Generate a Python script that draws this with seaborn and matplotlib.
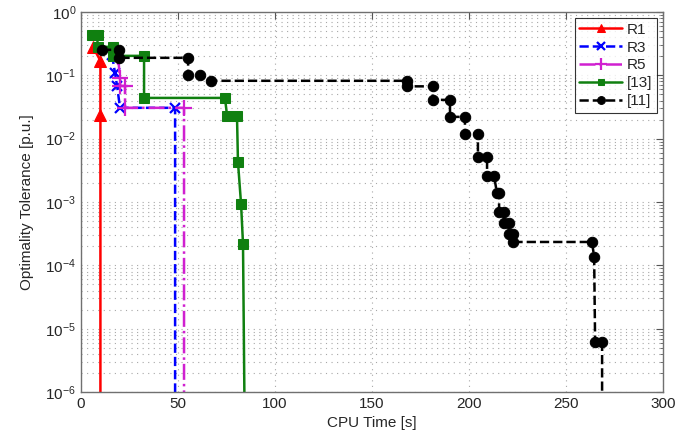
import numpy as np
import matplotlib
matplotlib.use("Agg")
import matplotlib.pyplot as plt
import seaborn as sns
from matplotlib.ticker import LogLocator, FixedLocator, NullFormatter

# data (CPU time [s], tolerance [p.u.])
r1_t = [6.2, 10.0, 10.0, 10.0]
r1_tol = [0.28, 0.17, 0.0238, 1e-7]

r3_t = [16.0, 17.5, 18.6, 20.1, 48.5, 48.5]
r3_tol = [0.211, 0.11, 0.068, 0.0307, 0.0307, 1e-7]

r5_t = [19.1, 20.1, 20.1, 22.7, 22.7, 53.1, 53.1]
r5_tol = [0.195, 0.091, 0.068, 0.068, 0.0307, 0.0307, 1e-7]

ref13_t = [5.7, 8.5, 8.5, 16.3, 16.3, 32.5, 32.5, 74.2, 75.3, 80.4, 80.9, 82.5, 83.5, 84.5]
ref13_tol = [0.437, 0.437, 0.282, 0.282, 0.203, 0.203, 0.044, 0.044, 0.0229, 0.0229,
             0.0043, 0.00093, 0.000218, 1e-7]

ref11_t = [10.8, 19.6, 19.6, 55.2, 55.2, 61.3, 67.0, 168.0, 168.0, 181.4, 181.4, 190.2,
           190.2, 197.9, 197.9, 204.6, 204.6, 209.3, 209.3, 212.9, 214.4, 215.5, 215.5,
           218.0, 218.0, 220.6, 220.6, 222.7, 222.7, 263.4, 264.5, 265.0, 268.6, 268.6]
ref11_tol = [0.253, 0.253, 0.189, 0.189, 0.102, 0.1, 0.082, 0.082, 0.067, 0.067, 0.041,
             0.041, 0.0221, 0.0221, 0.0119, 0.0119, 0.00515, 0.00515, 0.00258, 0.00258,
             0.00139, 0.00139, 0.000698, 0.000698, 0.000468, 0.000468, 0.000313,
             0.000313, 0.000234, 0.000234, 0.000136, 6.2e-6, 6.2e-6, 1e-7]

sns.set_style("white")
plt.rcParams['font.family'] = ['Liberation Sans', 'DejaVu Sans']
plt.rcParams['mathtext.fontset'] = 'custom'
plt.rcParams['mathtext.rm'] = 'Liberation Sans'
plt.rcParams['mathtext.it'] = 'Liberation Sans'

fig = plt.figure(figsize=(6.96, 4.44), dpi=100)
ax = fig.add_axes([0.1164, 0.117, 0.8362, 0.856])

series = [
    (r1_t, r1_tol, "R1", "red", dict(linestyle="-", marker="^", markersize=8)),
    (r3_t, r3_tol, "R3", "blue", dict(linestyle="--", marker="x", markersize=7,
                                      markeredgewidth=1.6)),
    (r5_t, r5_tol, "R5", "#d020d0", dict(linestyle="-.", marker="+", markersize=11,
                                         markeredgewidth=1.6)),
    (ref13_t, ref13_tol, "[13]", "#108010", dict(linestyle="-", marker="s", markersize=6.5)),
    (ref11_t, ref11_tol, "[11]", "black", dict(linestyle="--", marker="o", markersize=7.5)),
]

for t, tol, name, col, style in series:
    sns.lineplot(x=t, y=tol, sort=False, estimator=None, ax=ax, label=name,
                 color=col, markeredgecolor=col, markerfacecolor=col,
                 linewidth=1.8, **style)

ax.set_yscale('log')
ax.set_xlim(0, 300)
ax.set_ylim(1e-6, 1)

ax.xaxis.set_major_locator(FixedLocator(np.arange(0, 301, 50)))
ax.yaxis.set_major_locator(FixedLocator([10.0 ** k for k in range(-6, 1)]))
ax.set_yticklabels([f"$10^{{{k}}}$" for k in range(-6, 1)])
ax.yaxis.set_minor_locator(LogLocator(base=10, subs=np.arange(2, 10), numticks=20))
ax.yaxis.set_minor_formatter(NullFormatter())

# matlab style grid
dot = (0, (1, 4))
ax.grid(True, which='major', axis='both', color='#a8a8a8', linestyle=dot, linewidth=0.8)
ax.grid(True, which='minor', axis='y', color='#a8a8a8', linestyle=dot, linewidth=0.8)

ax.tick_params(which='both', direction='in', top=True, right=True, labelsize=11,
               color='#555555')
ax.tick_params(which='major', length=5)
ax.tick_params(which='minor', length=2.5)
for s in ax.spines.values():
    s.set_color('#707070')
    s.set_linewidth(1.0)

ax.set_xlabel("CPU Time [s]", fontsize=11)
ax.set_ylabel("Optimality Tolerance [p.u.]", fontsize=11, labelpad=8)

leg = ax.legend(loc='upper right', fontsize=11, frameon=True, fancybox=False,
                borderaxespad=0.4, handlelength=2.8, labelspacing=0.25,
                borderpad=0.3, handletextpad=0.3, markerscale=0.75)
leg.get_frame().set_edgecolor('black')
leg.get_frame().set_linewidth(0.8)

fig.savefig("out.png", dpi=100)
